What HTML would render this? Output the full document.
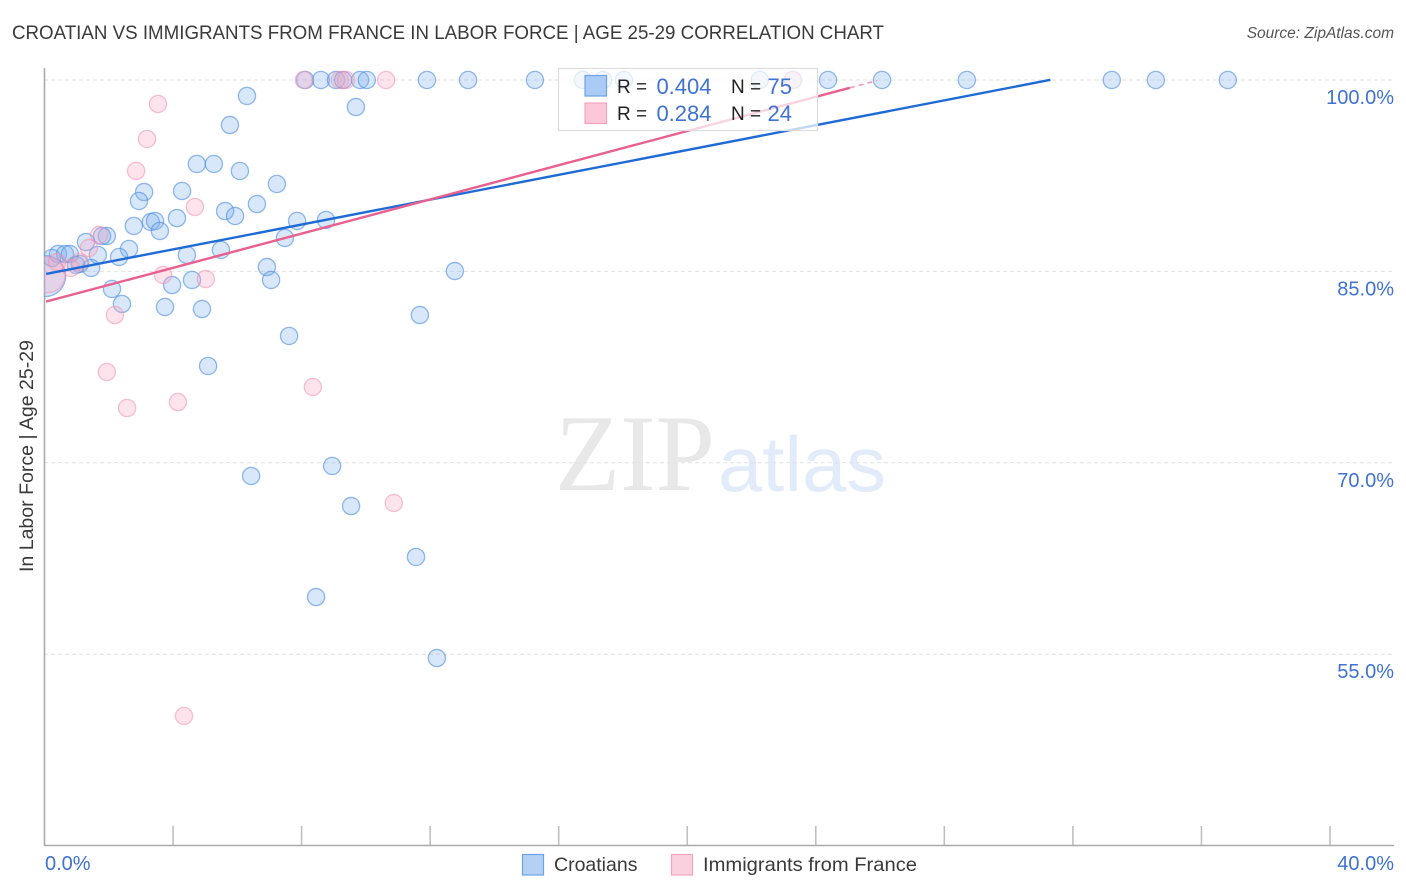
<!DOCTYPE html>
<html lang="en">
<head>
<meta charset="utf-8">
<title>Croatian vs Immigrants from France in Labor Force | Age 25-29 Correlation Chart</title>
<style>
html,body{margin:0;padding:0;background:#fff;width:1406px;height:892px;overflow:hidden}
svg{display:block;font-family:"Liberation Sans",sans-serif}
</style>
</head>
<body>
<svg id="chart" xmlns="http://www.w3.org/2000/svg" width="1406" height="892" viewBox="0 0 1406 892">
  <defs>
    <clipPath id="plot-clip"><rect x="44" y="60" width="1350" height="786"/></clipPath>
  </defs>
  <text x="12" y="39" font-size="19.5" fill="#3a3a3a" textLength="872" lengthAdjust="spacingAndGlyphs">CROATIAN VS IMMIGRANTS FROM FRANCE IN LABOR FORCE | AGE 25-29 CORRELATION CHART</text>
  <text x="1394" y="38" font-size="15.5" font-style="italic" fill="#555" text-anchor="end">Source: ZipAtlas.com</text>
  <g>
    <text x="555" y="490" font-family="'Liberation Serif',serif" font-size="109" fill="#e8e8e8" textLength="160" lengthAdjust="spacingAndGlyphs">ZIP</text>
    <text x="718" y="491" font-size="78" fill="#e1ebf9" textLength="168" lengthAdjust="spacingAndGlyphs">atlas</text>
  </g>
  <g id="grid"></g>
  <g id="x-ticks"></g>
  <line x1="44.5" y1="68" x2="44.5" y2="846" stroke="#aaa" stroke-width="1.6"/>
  <line x1="44" y1="845.5" x2="1394" y2="845.5" stroke="#aaa" stroke-width="1.6"/>
  <g id="points" clip-path="url(#plot-clip)"></g>
  <g id="trends"></g>
  <g id="y-labels"></g>
  <text x="45" y="870" font-size="20" fill="#3f72d2">0.0%</text>
  <text x="1394" y="870" font-size="20" fill="#3f72d2" text-anchor="end">40.0%</text>
  <text transform="translate(33,456) rotate(-90)" font-size="19" fill="#3a3a3a" text-anchor="middle" textLength="232" lengthAdjust="spacingAndGlyphs">In Labor Force | Age 25-29</text>

  <g>
    <rect x="558.5" y="68.5" width="259" height="62" fill="#fff" fill-opacity="0.72" stroke="#ddd" stroke-width="1.2"/>
    <rect x="585" y="75.5" width="21.5" height="20.5" fill="#a9cbf5" stroke="#6fa3e6" stroke-width="1.2"/>
    <rect x="585" y="103" width="21.5" height="20.5" fill="#fac8d8" stroke="#f3a3bd" stroke-width="1.2"/>
    <text x="617" y="93" font-size="19" fill="#222">R =</text>
    <text x="711.5" y="94" font-size="22" fill="#3f72d2" text-anchor="end">0.404</text>
    <text x="731" y="93" font-size="19" fill="#222">N =</text>
    <text x="792" y="94" font-size="22" fill="#3f72d2" text-anchor="end">75</text>
    <text x="617" y="120" font-size="19" fill="#222">R =</text>
    <text x="711.5" y="121" font-size="22" fill="#3f72d2" text-anchor="end">0.284</text>
    <text x="731" y="120" font-size="19" fill="#222">N =</text>
    <text x="792" y="121" font-size="22" fill="#3f72d2" text-anchor="end">24</text>
  </g>

  <g>
    <rect x="522.5" y="854.5" width="21" height="20.5" fill="#b4d0f5" stroke="#6fa3e6" stroke-width="1.2"/>
    <text x="554" y="871" font-size="19.5" fill="#3a3a3a">Croatians</text>
    <rect x="671.5" y="854.5" width="21" height="20.5" fill="#fbd0de" stroke="#f3a3bd" stroke-width="1.2"/>
    <text x="703" y="871" font-size="19.5" fill="#3a3a3a" textLength="214" lengthAdjust="spacingAndGlyphs">Immigrants from France</text>
  </g>
</svg>
<script>
// Axis data
const yTickValues = [100, 85, 70, 55];
const yTickLabels = ["100.0%", "85.0%", "70.0%", "55.0%"];
const xTickValues = [4, 8, 12, 16, 20, 24, 28, 32, 36, 40];

// Croatians series (x = percent, y = in labor force percent)
const croatianX = [8.11,8.60,9.07,9.29,9.82,10.03,23.29,11.90,13.18,15.26,16.75,17.38,18.03,22.26,24.38,26.06,28.70,33.21,34.58,36.82,
  6.30,9.69,5.77,4.74,5.27,6.08,7.23,3.10,4.28,2.94,6.61,5.62,5.93,4.12,7.86,8.76,2.78,3.31,3.44,3.59,1.94,1.79,7.48,1.29,2.63,5.49,1.66,2.32,4.43,
  0.42,0.64,0.79,0.23,1.10,0.98,1.45,6.92,12.77,7.05,4.59,3.97,2.10,2.41,3.75,4.90,11.68,7.61,5.09,8.95,6.43,9.54,11.56,8.45,12.21];
const croatianY = [100,100,100,100,100,100,100,100,100,100,100,100,100,100,100,100,100,100,100,100,
  98.75,97.88,96.47,93.42,93.42,92.87,91.85,91.22,91.30,90.52,90.28,89.73,89.34,89.18,88.95,89.03,88.56,88.87,88.95,88.17,87.77,87.77,87.62,87.30,86.76,86.68,86.29,86.13,86.29,
  86.36,86.36,86.36,86.05,85.58,85.50,85.27,85.34,85.03,84.33,84.33,83.93,83.62,82.45,82.21,82.05,81.58,79.94,77.59,69.75,68.97,66.61,62.62,59.48,54.70];
const croatianClusterX = [0.02];
const croatianClusterY = [84.64];

// Immigrants from France series
const franceX = [8.07,9.19,9.38,10.63,3.53,3.19,2.85,4.68,1.70,1.38,3.69,5.02,2.19,1.94,2.57,4.15,8.35,10.87,4.34,0.82,1.10,0.39,23.29];
const franceY = [100,100,100,100,98.12,95.38,92.87,90.05,87.85,86.83,84.72,84.40,81.58,77.12,74.29,74.76,75.94,66.85,50.16,85.27,85.74,85.74,100];
const franceClusterX = [0.08];
const franceClusterY = [84.72];

// Trend line fits
const croatianTrend = {intercept: 84.78, slope: 0.4866, endX: 31.3};
const franceTrend = {intercept: 82.6, slope: 0.67, endX: 25.06, fadeEndX: 25.9};

const NS = "http://www.w3.org/2000/svg";
const sx = v => 44.5 + v * (1285.5 / 40);
const sy = v => 80 + (100 - v) * (191.4 / 15);
function mk(tag, attrs, parent) {
  const el = document.createElementNS(NS, tag);
  for (const k in attrs) el.setAttribute(k, attrs[k]);
  parent.appendChild(el);
  return el;
}

const grid = document.getElementById("grid");
yTickValues.forEach(v => {
  const g = mk("line", {x1: 44, x2: 1394, y1: sy(v), y2: sy(v), stroke: "#e2e2e2", "stroke-width": 1, "stroke-dasharray": "4 3"}, grid);
  
  
});

const xt = document.getElementById("x-ticks");
xTickValues.forEach(v => {
  const t = mk("line", {x1: sx(v), x2: sx(v), y1: 826, y2: 846, stroke: "#c0c0c0", "stroke-width": 1.6}, xt);
  
  
});

const yl = document.getElementById("y-labels");
yTickValues.forEach((v, i) => {
  const t = mk("text", {x: 1394, y: sy(v) + 24, "font-size": 20, fill: "#3f72d2", "text-anchor": "end"}, yl);
  
  
  t.textContent = yTickLabels[i];
});

const pts = document.getElementById("points");
const blueStyle = {fill: "#7db0ee", "fill-opacity": 0.3, stroke: "#4f8fe0", "stroke-opacity": 0.62, "stroke-width": 1.3};
const pinkStyle = {fill: "#f7a6c0", "fill-opacity": 0.3, stroke: "#f08fb0", "stroke-opacity": 0.55, "stroke-width": 1.3};
function addDot(x, y, r, style, name) {
  const c = mk("circle", Object.assign({cx: sx(x), cy: sy(y), r: r}, style), pts);
  
  
}
croatianClusterX.forEach((x, i) => addDot(x, croatianClusterY[i], 20.5, blueStyle, "croatians-cluster-point"));
croatianX.forEach((x, i) => addDot(x, croatianY[i], 8.6, blueStyle, "croatians-point"));
franceClusterX.forEach((x, i) => addDot(x, franceClusterY[i], 18, pinkStyle, "france-cluster-point"));
franceX.forEach((x, i) => addDot(x, franceY[i], 8.6, pinkStyle, "france-point"));

const tr = document.getElementById("trends");
function addTrend(fit, color, name, fromX, toX, extra) {
  const l = mk("line", Object.assign({
    x1: sx(fromX), y1: sy(fit.intercept + fit.slope * fromX),
    x2: sx(toX), y2: sy(fit.intercept + fit.slope * toX),
    stroke: color, "stroke-width": 2.4
  }, extra || {}), tr);
  
  
}
addTrend(croatianTrend, "#1f6bd6", "croatians-trend-line", 0.05, croatianTrend.endX);
addTrend(franceTrend, "#e9608f", "france-trend-line", 0.05, franceTrend.endX);
addTrend(franceTrend, "#f29ab8", "france-trend-extension", franceTrend.endX, franceTrend.fadeEndX, {"stroke-dasharray": "5 4", "stroke-width": 1.6});
</script>
</body>
</html>
